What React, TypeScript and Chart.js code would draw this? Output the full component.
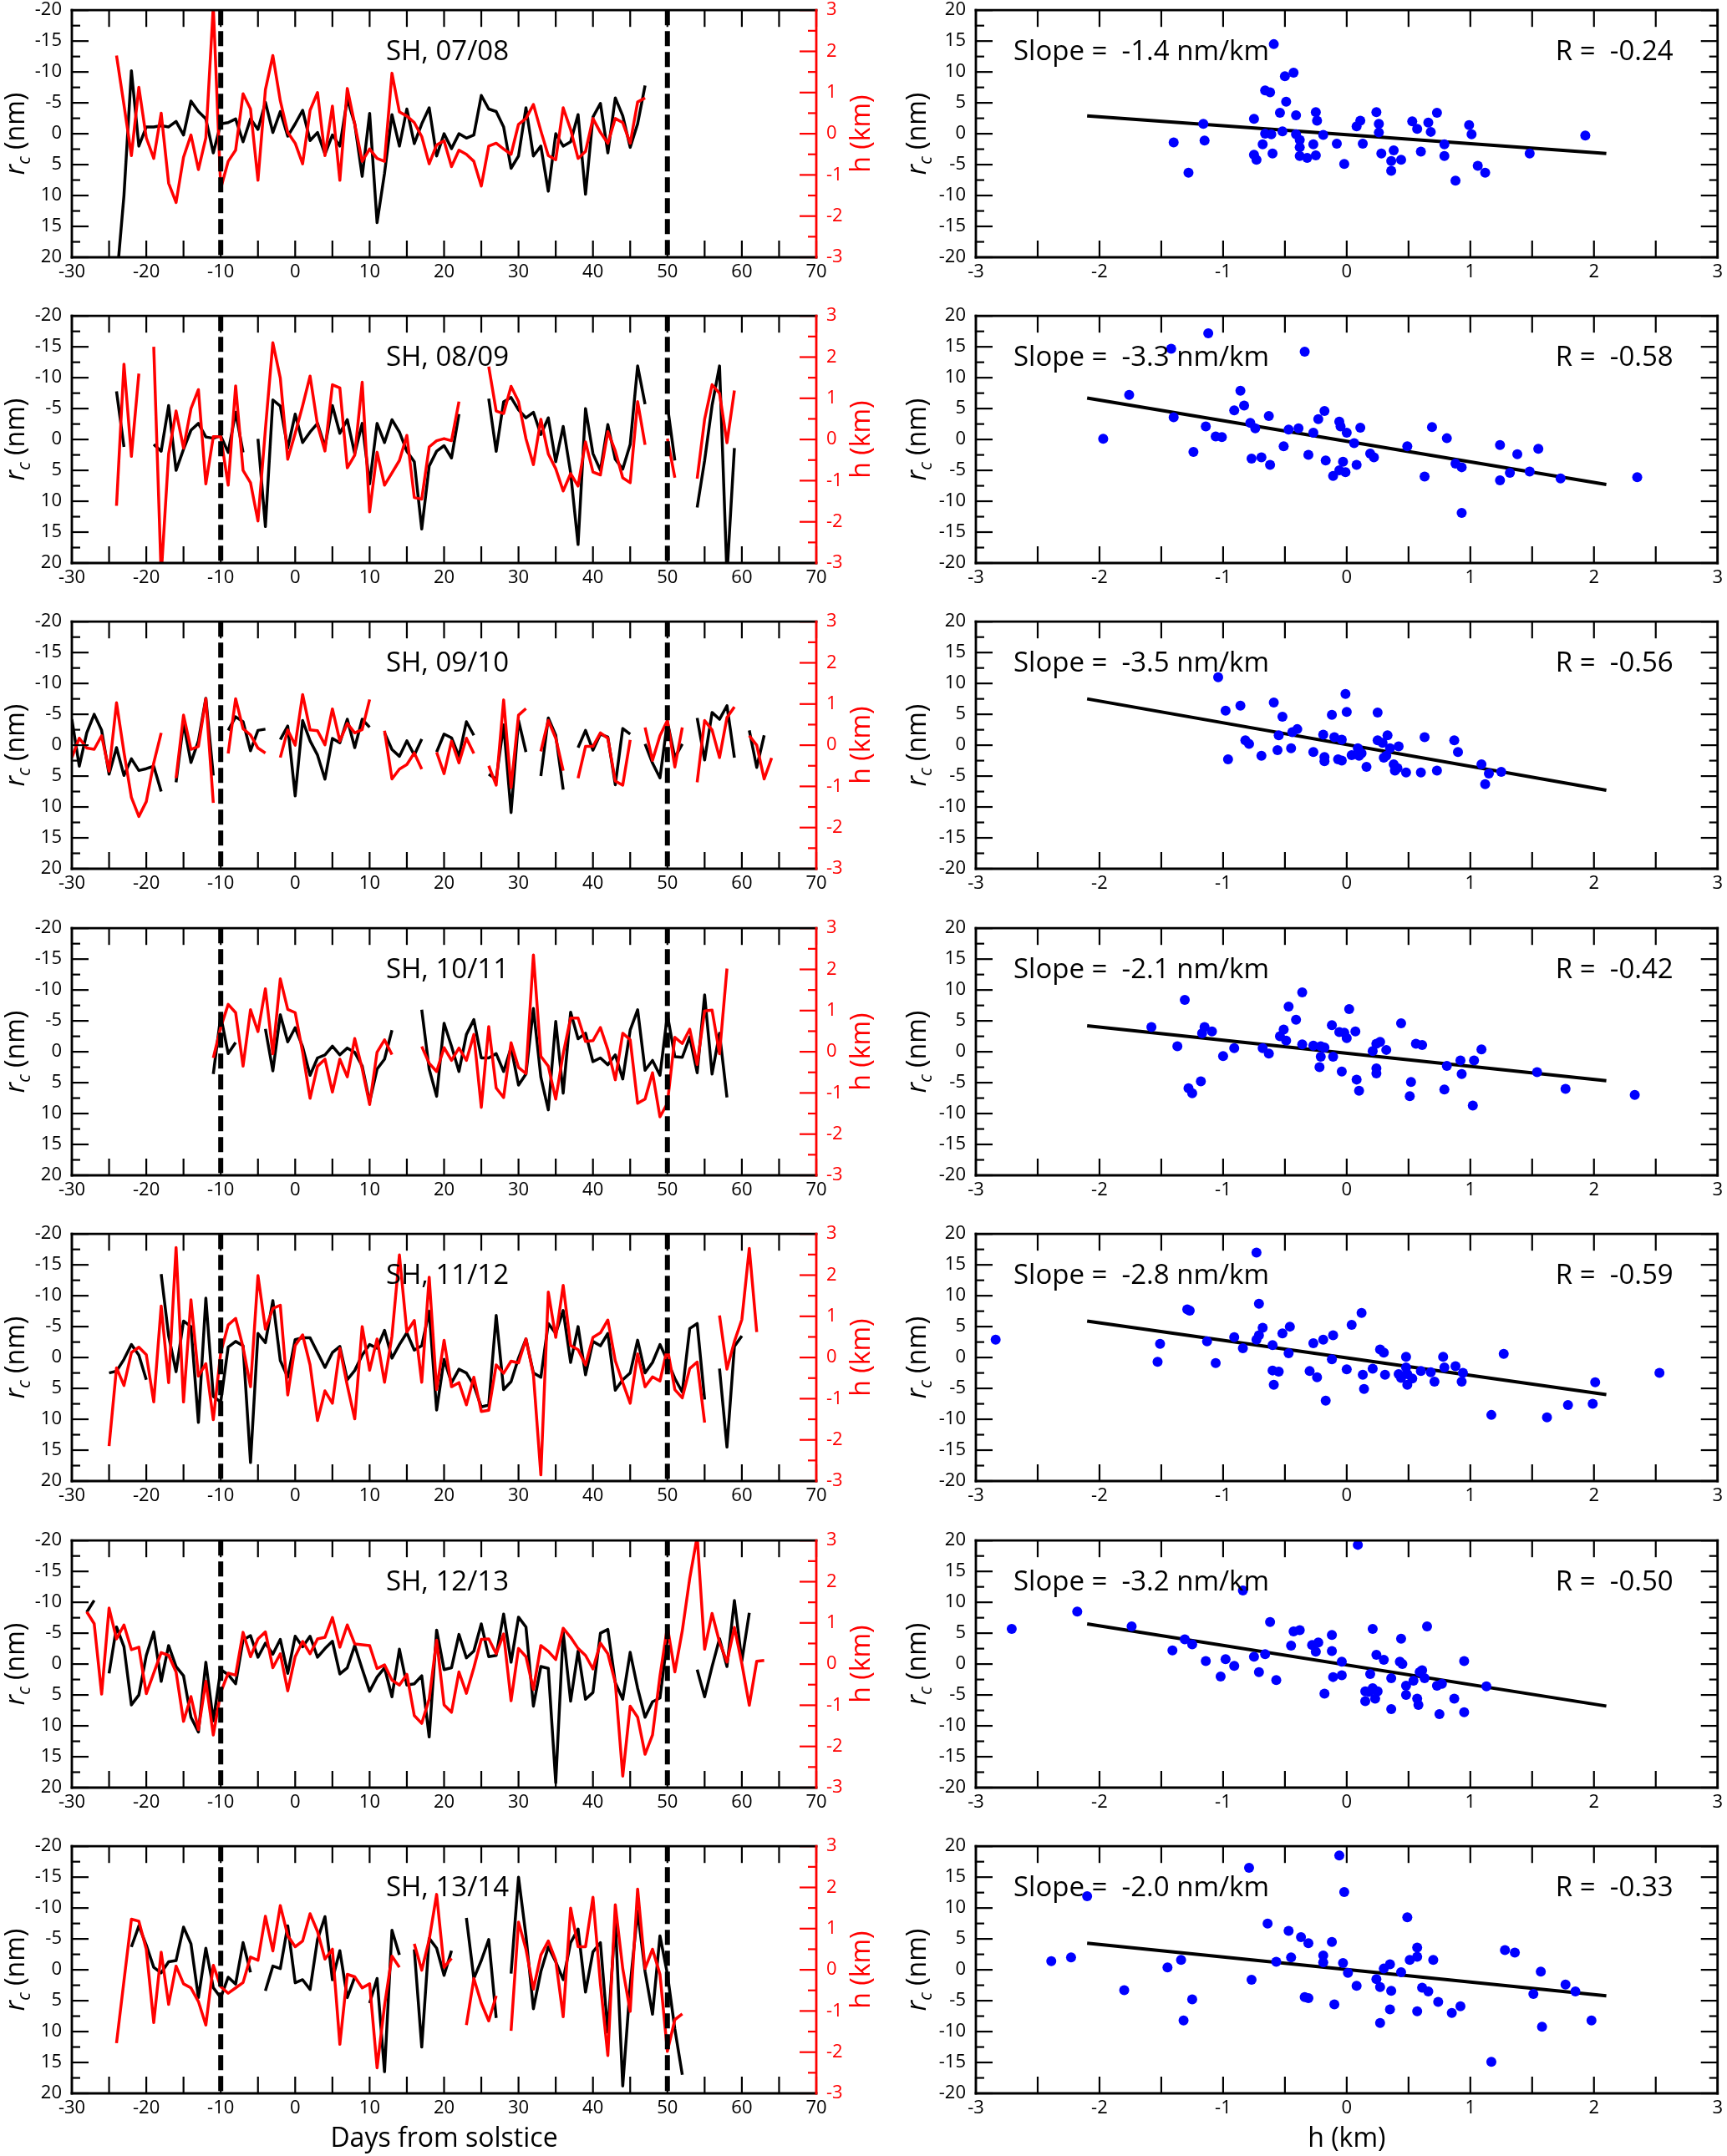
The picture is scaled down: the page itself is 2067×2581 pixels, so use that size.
import React, { useEffect, useRef } from 'react';
import { Chart, registerables } from 'chart.js';
Chart.register(...registerables);

const FONT = "'Open Sans', 'Noto Sans', 'DejaVu Sans', sans-serif";
const RED = '#ff0000';
const BLUE = '#0000ff';

// ---------------- data ----------------
const seasonLabels = ['SH, 07/08', 'SH, 08/09', 'SH, 09/10', 'SH, 10/11', 'SH, 11/12', 'SH, 12/13', 'SH, 13/14'];
const slopeLabels = ['-1.4', '-3.3', '-3.5', '-2.1', '-2.8', '-3.2', '-2.0'];
const rLabels = ['-0.24', '-0.58', '-0.56', '-0.42', '-0.59', '-0.50', '-0.33'];
const windowDays = [-10, 50];

// time series: rc (nm) and h (km), one value per day starting at the given day
const rc0708Start = -24;
const rc0708 = [
  24, 10, -10.2, 2.0, -1.1, -1.1, -1.3, -1.1, -2.0, 0.2,
  -5.3, -3.6, -2.4, 3.1, -1.6, -1.8, -2.4, 1.3, -2.4, -0.7,
  -5.1, -0.2, -3.6, 0.4, -1.6, -3.8, 1.1, -0.2, 3.3, 0.2,
  2.0, -5.6, -1.6, 6.9, -3.3, 14.4, 6.4, -3.1, 2.0, -4.0,
  1.6, -1.6, -4.2, 3.6, 0, 2.4, 0, 0.7, 0.2, -6.2,
  -4.0, -3.6, -1.1, 5.6, 3.6, -4.2, 3.6, 2.0, 9.3, 0,
  2.0, 1.3, -3.1, 9.8, -2.7, -4.9, 3.1, -5.8, -2.9, 2.2,
  -1.6, -7.8,
];
const h0708Start = -24;
const h0708 = [
  1.9, 0.7, -0.53, 1.13, -0.1, -0.6, 0.5, -1.2, -1.67, -0.57,
  -0.03, -0.87, -0.1, 3.1, -1.33, -0.67, -0.4, 0.97, 0.6, -1.13,
  1.07, 1.9, 0.8, 0.03, -0.23, -0.73, 0.57, 1.0, -0.53, 0.67,
  -1.13, 1.1, 0.23, -0.67, -0.37, -0.6, -0.67, 1.47, 0.53, 0.43,
  0.27, -0.07, -0.73, -0.27, -0.17, -0.8, -0.4, -0.5, -0.67, -1.27,
  -0.3, -0.23, -0.37, -0.5, 0.23, 0.37, 0.71, 0.07, -0.53, -0.63,
  0.63, 0.1, -0.6, -0.43, 0.37, 0.03, -0.23, 0.37, 0.27, -0.23,
  0.77, 0.87,
];

const rc0809Start = -24;
const rc0809 = [
  -7.8, 1.2, null, null, null, 0.8, 1.9, -5.5, 5.0, 1.6,
  -1.5, -2.6, -0.4, -0.2, -0.6, 2.1, -4.4, 2.1, null, -0.1,
  14.1, -6.4, -5.4, 1.4, -4.1, 0.5, -1.2, -2.6, 1.2, -5.5,
  -1.0, -3.2, 2.3, -2.6, 7.2, -2.6, 0.5, -3.2, -1.2, 1.9,
  3.6, 14.5, 4.3, 1.9, 1.0, 3.0, -4.1, null, null, null,
  -6.6, 1.9, -6.1, -6.8, -4.8, -3.5, -4.4, -0.8, -3.5, 3.6,
  -2.1, 5.4, 17.0, -5.0, 2.3, 5.0, -2.4, 3.2, 4.8, 0.8,
  -11.9, -5.7, null, null, -5.5, 3.4, null, null, 11.0, 3.4,
  -5.5, -11.9, 22, 1.4,
];
const h0809Start = -24;
const h0809 = [
  -1.61, 1.83, -0.41, 1.6, null, 2.25, -3.3, -0.35, 0.69, -0.21,
  0.75, 1.21, -1.08, 0.07, 0.07, -1.11, 1.3, -0.75, -1.05, -1.98,
  0.25, 2.35, 1.49, -0.48, 0.15, 0.82, 1.54, 0.35, -0.28, 1.33,
  1.25, -0.69, -0.38, 1.39, -1.76, -0.31, -1.11, -0.81, -0.51, 0.1,
  -1.41, -1.45, -0.18, -0.03, 0.02, -0.03, 0.92, null, null, null,
  1.77, 0.69, 0.63, 1.29, 0.92, 0.02, -0.61, 0.49, -0.35, -0.71,
  -1.25, -0.83, -1.13, -0.06, -0.79, -0.86, 0.19, -0.28, -0.93, -1.05,
  0.92, -0.13, null, null, 0.02, -0.93, null, null, -0.95, 0.49,
  1.33, 1.12, -0.08, 1.19,
];

const rc0910Start = -30;
const rc0910 = [
  -4.2, 3.4, -2.0, -5.0, -2.4, 4.7, 0.4, 4.9, 2.2, 4.1,
  3.8, 3.4, 7.5, null, 6.0, -3.6, 2.8, -0.7, -7.6, 4.9,
  null, -2.4, -4.6, -3.8, 0.9, -2.4, -2.6, null, -0.9, -3.1,
  8.2, -4.0, -0.7, 1.6, 5.5, -1.1, -0.4, -4.2, 0.4, -4.2,
  -2.9, null, -2.0, 0.7, 1.8, -0.7, 1.6, -1.0, null, 1.1,
  -1.8, -1.2, 1.8, -3.8, -1.6, null, 4.7, 5.5, -3.3, 10.9,
  -4.0, 1.1, null, 5.0, -4.4, -1.6, 7.2, null, 0.4, -2.4,
  0.8, -1.8, -1.3, 6.4, -2.7, -1.8, null, -0.2, 2.9, 5.3,
  -3.8, 2.0, -0.2, null, -4.4, 2.4, -5.3, -4.2, -6.4, 2.0,
  null, -2.4, 3.6, -1.6, null,
];
const h0910Start = -30;
const h0910 = [
  -0.3, 0.17, -0.07, -0.1, 0.23, -0.63, 1.03, -0.17, -1.27, -1.73,
  -1.37, -0.43, 0.3, null, -0.8, 0.73, -0.1, -0.03, 1.13, -1.4,
  null, -0.2, 1.13, 0.4, 0.25, -0.07, -0.19, null, -0.3, 0.37,
  0.0, 1.23, 0.37, 0.35, 0.01, 0.88, 0.1, 0.53, 0.3, 0.38,
  1.11, null, 0.35, -0.82, -0.58, -0.47, -0.19, -0.58, null, -0.17,
  -0.69, 0.1, -0.43, 0.17, -0.2, null, -0.5, -0.97, 1.1, -1.03,
  0.73, 0.89, null, -0.15, 0.6, 0.17, -0.62, null, -0.8, -0.03,
  -0.03, 0.3, 0.17, -0.87, -0.97, 0.13, null, 0.43, -0.37, 0.23,
  0.6, -0.53, 0.43, null, -0.9, 0.6, 0.37, -0.3, 0.67, 0.93,
  null, 0.23, 0.0, -0.82, -0.31,
];

const rc1011Start = -11;
const rc1011 = [
  3.6, -5.8, 0.3, -1.5, null, null, null, -3.7, 3.1, -6.0,
  -1.6, -3.9, -0.8, 3.8, 1.0, 0.5, -0.9, 0.5, -0.6, 0.1,
  2.3, 8.1, 2.8, 1.2, -3.5, null, null, null, -6.8, 2.8,
  7.2, -4.6, -0.9, 3.2, -2.8, -5.2, 1.0, 1.0, 0.3, 3.2,
  -0.7, 5.4, 3.6, -7.0, 4.1, 9.4, -4.9, 6.7, -6.4, -2.1,
  -3.0, 1.6, 1.0, 2.1, 0.5, 4.4, -3.5, -6.8, 3.0, 1.4,
  3.8, -6.0, 0.8, 0.9, -2.4, 3.4, -9.2, 3.6, -3.0, 7.4,
];
const h1011Start = -11;
const h1011 = [
  -0.15, 0.59, 1.15, 0.95, -0.35, 1.02, 0.49, 1.53, -0.05, 1.77,
  1.03, 0.95, -0.01, -1.13, -0.35, -0.18, -0.98, -0.18, -0.61, 0.32,
  -0.41, -1.28, -0.01, 0.29, -0.07, null, null, null, 0.13, -0.28,
  -0.48, 0.1, -0.21, 0.09, -0.21, 0.42, -1.35, 0.61, -0.88, -1.11,
  0.22, -0.38, -0.53, 2.35, -0.11, -0.35, -1.15, -0.05, 0.82, 0.82,
  0.25, 0.27, 0.59, 0.05, -0.68, 0.45, 0.29, -1.25, -1.15, -0.51,
  -1.58, -1.25, 0.35, 0.2, 0.55, -0.31, 0.99, 1.01, -0.05, 2.02,
];

const rc1112Start = -25;
const rc1112 = [
  2.5, 2.2, 0.3, -2.1, -0.4, 3.6, null, -13.5, -3.5, 2.3,
  -5.9, -5.0, 10.5, -9.6, 6.3, 7.2, -1.7, -2.6, -1.9, 17.0,
  -3.9, -2.4, -9.2, 0.5, 3.2, -2.9, -3.2, -3.2, -0.8, 1.6,
  -0.8, -1.8, 3.6, 2.1, -0.4, -2.1, -1.5, -4.4, 0.1, -2.1,
  -4.0, -1.2, -1.9, -7.5, 8.5, 0.3, 4.1, 1.9, 2.5, 4.5,
  8.0, 7.7, -6.8, 5.2, 3.9, 0.1, -3.0, 2.5, 3.2, -5.5,
  -3.9, -7.6, 0.8, -5.0, 2.8, -2.6, -1.9, -3.9, 5.3, 3.6,
  2.5, -2.8, 2.5, 0.8, -2.1, 0.5, 3.4, 5.6, -4.7, -5.5,
  6.8, null, 1.8, 14.5, -1.8, -3.5,
];
const h1112Start = -25;
const h1112 = [
  -2.15, -0.25, -0.68, 0.12, 0.25, 0.07, -1.08, 1.25, -0.61, 2.67,
  -1.08, 1.4, -0.45, -0.15, -1.51, 0.12, 0.79, 0.95, 0.25, -0.71,
  1.99, 0.69, 1.19, 1.27, -0.91, 0.29, 0.55, -0.18, -1.53, -0.81,
  -1.11, 0.22, -0.68, -1.49, 0.75, -0.31, 0.45, -0.6, 0.52, 2.49,
  0.62, 0.9, -0.6, 1.95, -0.78, 0.42, -0.71, -0.61, -1.15, -0.48,
  -1.31, -1.28, -0.18, -0.38, -0.09, -0.13, 0.45, -0.41, -2.85, 1.59,
  0.49, 1.75, 0.29, 0.19, -0.18, 0.49, 0.6, 0.91, -0.08, -0.61,
  -1.11, 0.09, -0.71, -0.47, -0.57, 0.22, -0.78, -0.98, -0.27, -0.11,
  -1.58, null, 1.02, -0.28, 0.39, 0.92, 2.65, 0.62,
];

const rc1213Start = -28;
const rc1213 = [
  -8.4, -10.3, null, 1.5, -6.0, -2.8, 6.6, 5.0, -1.4, -5.2,
  2.8, -3.0, 0.4, 1.9, 8.6, 11.0, -0.3, 9.2, 0.9, 1.7,
  3.2, -3.9, -4.6, -1.1, -3.4, -1.6, -4.0, 1.5, -4.5, -2.8,
  -4.5, -1.1, -2.5, -3.7, 1.6, 0.6, -3.0, 0.8, 4.4, 2.1,
  0.6, 5.3, -2.4, 3.4, 3.2, 1.9, 11.8, -5.5, 0.9, 0.6,
  -4.8, -1.0, -2.1, -6.5, -1.2, -1.4, -8.1, -0.3, -7.6, -6.0,
  6.8, 0.4, 0.7, 19.2, -5.2, 6.0, -2.1, 5.7, 4.6, -5.0,
  -5.6, 3.0, 5.7, -1.9, 3.9, 8.6, 6.1, 5.5, -4.1, null,
  null, null, 0.9, 5.3, 0.4, -4.1, 0.4, -10.3, -0.5, -8.3,
];
const h1213Start = -28;
const h1213 = [
  1.27, 0.98, -0.73, 1.36, 0.61, 0.95, 0.35, 0.41, -0.72, -0.22,
  0.28, 0.21, -0.19, -1.39, -0.79, -1.59, -0.42, -1.72, -0.69, -0.22,
  -0.27, 0.77, 0.18, 0.61, 0.78, -0.09, 0.25, -0.65, 0.18, 0.55,
  0.25, 0.61, 0.65, 1.13, 0.41, 0.95, 0.49, 0.47, 0.45, -0.11,
  -0.02, -0.39, -0.51, -0.25, -1.25, -1.44, -0.85, 0.58, -0.99, -1.17,
  -0.19, -0.71, -0.09, 0.6, 0.61, 0.25, 0.73, -0.89, 0.38, 0.18,
  -0.62, 0.45, 0.31, 0.11, 0.87, 0.65, 0.38, 0.21, -0.12, 0.51,
  0.25, -0.45, -2.72, -1.02, -1.29, -2.19, -1.72, -0.29, 0.91, -0.19,
  0.81, 2.08, 3.1, 0.36, 1.23, 0.53, 0.05, 0.89, 0.01, -1.0,
  0.07, 0.09,
];

const rc1314Start = -22;
const rc1314 = [
  -3.7, -7.1, -4.0, -0.4, 0.5, -1.3, -1.5, -6.9, -4.2, 4.5,
  -3.5, 2.9, 4.5, 1.2, 2.3, -4.4, 0.4, null, 3.4, -0.6,
  -0.2, -7.1, 2.1, 1.6, 3.2, -4.9, -8.6, 1.6, -3.1, 4.5,
  1.2, null, 5.4, 1.4, 16.5, -6.4, -2.4, null, -3.3, 12.5,
  -5.1, -3.5, 0.9, -3.1, null, -8.4, 1.4, -1.5, -4.9, 7.8,
  null, 0.6, -15.0, -5.5, 6.3, 0.3, -3.7, -1.3, 1.6, -4.4,
  -6.6, 3.6, -2.9, -4.4, 10.1, -8.0, 18.8, 2.5, -9.5, 0.3,
  7.2, -5.5, 0.7, 9.6, 17.0,
];
const h1314Start = -24;
const h1314 = [
  -1.78, -0.27, 1.23, 1.18, 0.5, -1.28, 0.43, -0.84, 0.09, -0.34,
  -0.44, -0.77, -1.34, 0.11, -0.41, -0.57, -0.44, -0.31, 0.31, 0.23,
  1.3, 0.46, 1.56, 0.83, 0.56, 0.7, 1.36, 0.93, 0.26, 0.5,
  -1.81, -0.11, -0.17, -0.44, -0.34, -2.38, -0.87, 0.33, 0.06, null,
  0.63, -0.01, 0.73, 1.83, 0.06, 0.28, null, -1.34, -0.21, -0.81,
  -1.24, -0.63, null, -1.48, 1.16, 0.5, -0.47, 0.36, 0.7, 0.23,
  -1.14, 1.5, 0.56, 0.56, 1.76, -0.34, -2.08, 1.58, 0.03, -1.01,
  1.96, 0.03, 0.5, -0.11, -1.98, -1.21, -1.07,
];

// scatter: h (km) and rc (nm)
const sh0708 = [-1.40, -1.28, -1.16, -1.15, -0.75, -0.75, -0.73, -0.68, -0.66, -0.66, -0.62, -0.61, -0.60, -0.59, -0.54, -0.52, -0.50, -0.49, -0.43, -0.41, -0.41, -0.38, -0.38, -0.38, -0.32, -0.27, -0.25, -0.25, -0.24, -0.19, -0.08, -0.02, 0.08, 0.11, 0.13, 0.24, 0.26, 0.26, 0.28, 0.36, 0.36, 0.38, 0.44, 0.53, 0.57, 0.60, 0.66, 0.68, 0.73, 0.79, 0.79, 0.88, 0.99, 1.01, 1.06, 1.12, 1.48, 1.93];
const src0708 = [-1.4, -6.3, 1.6, -1.1, 2.4, -3.4, -4.2, -1.7, 7.0, 0, 6.7, -0.1, -3.2, 14.5, 3.4, 0.4, 9.3, 5.2, 9.9, 3.0, -0.1, -1.0, -2.2, -3.6, -3.9, -1.7, 3.5, -3.5, 2.1, -0.2, -1.6, -4.9, 1.2, 2.1, -1.6, 3.5, 1.6, 0.2, -3.2, -4.4, -6.0, -2.7, -4.2, 2.0, 0.8, -2.9, 1.8, 0.3, 3.4, -1.7, -3.6, -7.6, 1.4, -0.1, -5.2, -6.3, -3.2, -0.3];
const sh0809 = [-1.97, -1.76, -1.40, -1.42, -1.24, -1.14, -1.12, -1.06, -1.01, -0.91, -0.86, -0.83, -0.78, -0.77, -0.74, -0.69, -0.63, -0.62, -0.51, -0.47, -0.39, -0.34, -0.31, -0.27, -0.23, -0.18, -0.17, -0.11, -0.06, -0.05, -0.06, -0.03, -0.01, 0.00, 0.06, 0.08, 0.11, 0.19, 0.22, 0.49, 0.63, 0.69, 0.81, 0.88, 0.93, 0.93, 1.24, 1.24, 1.32, 1.38, 1.48, 1.55, 1.73, 2.35];
const src0809 = [0.1, 7.2, 3.6, 14.7, -2.0, 2.1, 17.2, 0.5, 0.4, 4.7, 7.9, 5.5, 2.7, -3.1, 1.8, -2.9, 3.8, -4.1, -1.1, 1.6, 1.8, 14.2, -2.5, 1.1, 3.3, 4.6, -3.4, -5.9, 2.9, 2.1, -5.0, -3.6, -5.3, 1.1, -0.6, -4.1, 1.9, -2.3, -2.9, -1.1, -6.0, 2.0, 0.2, -3.9, -4.5, -11.9, -0.9, -6.6, -5.4, -2.4, -5.2, -1.5, -6.3, -6.1];
const sh0910 = [-1.04, -0.98, -0.96, -0.86, -0.82, -0.79, -0.69, -0.59, -0.56, -0.55, -0.52, -0.45, -0.44, -0.40, -0.27, -0.19, -0.18, -0.18, -0.12, -0.10, -0.07, -0.04, -0.04, -0.01, 0.00, 0.04, 0.09, 0.10, 0.12, 0.16, 0.25, 0.25, 0.29, 0.30, 0.32, 0.33, 0.35, 0.38, 0.39, 0.41, 0.42, 0.48, 0.60, 0.63, 0.73, 0.87, 0.90, 1.09, 1.12, 1.15, 1.25];
const src0910 = [11.0, 5.6, -2.3, 6.4, 0.8, 0.2, -1.7, 6.9, -0.8, 1.6, 4.6, -0.5, 2.1, 2.6, -1.1, 1.7, -1.9, -2.6, 4.9, 1.3, -2.3, 0.9, -2.5, 8.3, 5.4, -1.6, -0.5, -1.7, -1.3, -3.5, 5.3, 0.8, 0.4, -2.0, -1.7, 1.6, -0.5, -3.1, -4.1, -3.7, -0.2, -4.4, -4.4, 1.3, -4.1, 0.8, -1.1, -3.1, -6.3, -4.6, -4.3];
const sh1011 = [-1.58, -1.37, -1.31, -1.28, -1.25, -1.18, -1.17, -1.15, -1.09, -1.00, -0.91, -0.68, -0.63, -0.54, -0.51, -0.49, -0.47, -0.41, -0.36, -0.36, -0.27, -0.22, -0.21, -0.21, -0.18, -0.12, -0.11, -0.06, -0.04, -0.02, 0.00, 0.02, 0.07, 0.08, 0.10, 0.21, 0.24, 0.24, 0.24, 0.27, 0.32, 0.44, 0.52, 0.51, 0.56, 0.61, 0.79, 0.81, 0.92, 0.93, 1.02, 1.03, 1.09, 1.54, 1.77, 2.33];
const src1011 = [4.0, 0.9, 8.4, -5.9, -6.7, -4.8, 3.0, 4.0, 3.3, -0.7, 0.6, 0.6, -0.3, 2.5, 3.6, 1.8, 7.3, 5.2, 1.2, 9.6, 1.0, -2.5, -0.8, 0.9, 0.7, 4.3, -0.8, 3.2, -3.2, 3.1, 2.2, 6.9, 3.3, -4.5, -6.3, 0.1, -2.7, -3.5, 1.3, 1.6, 0.3, 4.6, -4.9, -7.2, 1.3, 1.1, -6.1, -2.3, -1.4, -3.6, -8.7, -1.4, 0.4, -3.3, -6.0, -7.0];
const sh1112 = [-2.84, -1.53, -1.51, -1.29, -1.27, -1.13, -1.06, -0.91, -0.84, -0.73, -0.73, -0.71, -0.71, -0.68, -0.60, -0.60, -0.59, -0.55, -0.52, -0.47, -0.46, -0.30, -0.27, -0.24, -0.19, -0.17, -0.12, -0.11, 0.00, 0.04, 0.12, 0.13, 0.14, 0.21, 0.27, 0.30, 0.31, 0.42, 0.44, 0.48, 0.48, 0.49, 0.49, 0.53, 0.60, 0.68, 0.71, 0.78, 0.79, 0.88, 0.93, 0.94, 1.17, 1.27, 1.62, 1.79, 1.99, 2.01, 2.53];
const src1112 = [2.9, -0.7, 2.2, 7.8, 7.6, 2.6, -0.9, 3.3, 1.5, 17.0, 2.9, 3.6, 8.7, 4.8, 2.0, -2.1, -4.4, -2.3, 3.9, 0.7, 5.0, -2.2, 2.3, -3.2, 2.9, -7.0, -0.3, 3.6, -1.9, 5.3, 7.2, -2.8, -5.1, -1.8, 1.3, 0.8, -2.8, -2.7, -3.3, -1.6, 0.1, -4.4, -2.7, -3.4, -2.2, -2.4, -3.9, 0.1, -1.6, -1.4, -3.9, -2.5, -9.3, 0.6, -9.7, -7.7, -7.5, -4.0, -2.5];
const sh1213 = [-2.71, -2.18, -1.74, -1.41, -1.31, -1.25, -1.14, -1.02, -0.98, -0.91, -0.84, -0.75, -0.71, -0.66, -0.62, -0.57, -0.45, -0.43, -0.38, -0.28, -0.25, -0.23, -0.18, -0.12, -0.12, -0.11, -0.04, -0.04, 0.09, 0.15, 0.15, 0.18, 0.19, 0.21, 0.21, 0.23, 0.24, 0.25, 0.30, 0.36, 0.36, 0.43, 0.44, 0.45, 0.48, 0.48, 0.54, 0.57, 0.58, 0.59, 0.61, 0.63, 0.65, 0.73, 0.75, 0.77, 0.87, 0.95, 0.95, 1.13];
const src1213 = [5.7, 8.5, 6.1, 2.2, 4.0, 3.2, 0.5, -2.0, 0.8, -0.3, 11.9, 1.2, -1.3, 1.6, 6.8, -2.6, 3.0, 5.3, 5.5, 3.1, 2.0, 3.5, -4.8, 4.7, 2.1, -2.1, 0.4, -1.8, 19.3, -4.4, -6.0, -4.5, -1.6, -3.9, 5.7, -5.6, 1.5, -4.4, 0.7, -2.3, -7.3, 0.4, 4.1, 0.0, -3.5, -5.0, -2.7, -5.6, -6.6, -1.3, -1.0, -2.3, 6.1, -3.5, -8.1, -3.2, -5.6, 0.5, -7.8, -3.6];
const sh1314 = [-2.39, -2.23, -2.10, -1.80, -1.45, -1.34, -1.32, -1.25, -0.79, -0.77, -0.64, -0.57, -0.47, -0.45, -0.37, -0.34, -0.31, -0.31, -0.19, -0.19, -0.12, -0.10, -0.06, -0.03, -0.02, 0.01, 0.08, 0.24, 0.27, 0.27, 0.30, 0.35, 0.35, 0.36, 0.44, 0.49, 0.51, 0.57, 0.57, 0.57, 0.61, 0.66, 0.70, 0.74, 0.85, 0.92, 1.17, 1.28, 1.36, 1.51, 1.57, 1.58, 1.77, 1.85, 1.98];
const src1314 = [1.4, 2.0, 11.9, -3.3, 0.4, 1.6, -8.2, -4.8, 16.5, -1.6, 7.5, 1.3, 6.3, 2.0, 5.3, -4.4, -4.6, 4.3, 2.3, 1.2, 4.5, -5.6, 18.5, 1.1, 12.6, -0.5, -2.6, -1.5, -2.8, -8.6, 0.2, 0.9, -6.4, -3.4, -0.4, 8.5, 1.6, 3.6, 2.1, -6.7, -2.9, -3.5, 1.6, -5.2, -7.0, -5.9, -14.9, 3.2, 2.8, -3.9, -0.3, -9.2, -2.4, -3.5, -8.2];

// regression lines (end points)
const fitX = [-2.1, 2.1];
const fitStartY = [2.9, 6.7, 7.5, 4.2, 5.9, 6.5, 4.3];
const fitEndY = [-3.2, -7.3, -7.3, -4.7, -6.0, -6.8, -4.2];

const timePanels = [
  { rc: rc0708, rcStart: rc0708Start, h: h0708, hStart: h0708Start },
  { rc: rc0809, rcStart: rc0809Start, h: h0809, hStart: h0809Start },
  { rc: rc0910, rcStart: rc0910Start, h: h0910, hStart: h0910Start },
  { rc: rc1011, rcStart: rc1011Start, h: h1011, hStart: h1011Start },
  { rc: rc1112, rcStart: rc1112Start, h: h1112, hStart: h1112Start },
  { rc: rc1213, rcStart: rc1213Start, h: h1213, hStart: h1213Start },
  { rc: rc1314, rcStart: rc1314Start, h: h1314, hStart: h1314Start },
];
const scatterPanels = [
  { h: sh0708, rc: src0708 },
  { h: sh0809, rc: src0809 },
  { h: sh0910, rc: src0910 },
  { h: sh1011, rc: src1011 },
  { h: sh1112, rc: src1112 },
  { h: sh1213, rc: src1213 },
  { h: sh1314, rc: src1314 },
];

// ---------------- layout ----------------
const PAGE_W = 2067;
const PAGE_H = 2581;
const ROW_TOPS = [7, 373, 739, 1106, 1472, 1839, 2205];
const PLOT_H = 301;
const PAD_T = 20;
const L_CANVAS_W = 1075;
const L_AXIS_W = 86;
const L_PLOT_RIGHT = 977;
const S_CANVAS_X = 1060;
const S_CANVAS_W = 1007;
const S_PLOT_LEFT = 1168;
const S_PLOT_RIGHT = 2058;
const TICK_FONT = 22;
const TEXT_FONT = 33;
const AXIS_TITLE_FONT = 32;

function bottomHeight(i: number) {
  if (i === ROW_TOPS.length - 1) return PAGE_H - (ROW_TOPS[i] - PAD_T) - PAD_T - PLOT_H;
  return 45;
}

function toSeries(start: number, vals: (number | null)[]) {
  return vals.map((v, k) => ({ x: start + k, y: v }));
}

type Side = {
  scale: string; side: 'left' | 'right' | 'top' | 'bottom'; color: string;
  min: number; max: number; minor: number; major: number; majorLen: number; minorLen: number;
};

function frameTicksPlugin(sides: Side[], frame: { top: string; bottom: string; left: string; right: string }) {
  return {
    id: 'frameTicks',
    afterDatasetsDraw(chart: any) {
      const { ctx, chartArea: a } = chart;
      ctx.save();
      ctx.lineWidth = 2.2;
      ctx.lineCap = 'butt';
      for (const s of sides) {
        const sc = chart.scales[s.scale];
        ctx.strokeStyle = s.color;
        const n = Math.round((s.max - s.min) / s.minor);
        for (let k = 0; k <= n; k++) {
          const v = s.min + k * s.minor;
          const r = v / s.major;
          const isMajor = Math.abs(r - Math.round(r)) < 1e-6;
          const len = isMajor ? s.majorLen : s.minorLen;
          const p = sc.getPixelForValue(v);
          ctx.beginPath();
          if (s.side === 'bottom') { ctx.moveTo(p, a.bottom); ctx.lineTo(p, a.bottom - len); }
          else if (s.side === 'top') { ctx.moveTo(p, a.top); ctx.lineTo(p, a.top + len); }
          else if (s.side === 'left') { ctx.moveTo(a.left, p); ctx.lineTo(a.left + len, p); }
          else { ctx.moveTo(a.right, p); ctx.lineTo(a.right - len, p); }
          ctx.stroke();
        }
      }
      ctx.lineWidth = 2.8;
      ctx.lineCap = 'square';
      const seg = (c: string, x1: number, y1: number, x2: number, y2: number) => {
        ctx.strokeStyle = c; ctx.beginPath(); ctx.moveTo(x1, y1); ctx.lineTo(x2, y2); ctx.stroke();
      };
      seg(frame.top, a.left, a.top, a.right, a.top);
      seg(frame.bottom, a.left, a.bottom, a.right, a.bottom);
      seg(frame.left, a.left, a.top, a.left, a.bottom);
      seg(frame.right, a.right, a.top, a.right, a.bottom);
      ctx.restore();
    },
  };
}

function drawRcTitle(ctx: CanvasRenderingContext2D, cx: number, cy: number) {
  const big = AXIS_TITLE_FONT;
  const small = 21;
  ctx.save();
  ctx.translate(cx, cy);
  ctx.rotate(-Math.PI / 2);
  ctx.fillStyle = '#000';
  ctx.textAlign = 'left';
  ctx.textBaseline = 'alphabetic';
  const fR = `italic ${big}px ${FONT}`;
  const fC = `italic ${small}px ${FONT}`;
  const fN = `${big}px ${FONT}`;
  ctx.font = fR; const wR = ctx.measureText('r').width;
  ctx.font = fC; const wC = ctx.measureText('c').width;
  ctx.font = fN; const wN = ctx.measureText(' (nm)').width;
  let x = -(wR + wC + wN) / 2;
  const base = big * 0.35;
  ctx.font = fR; ctx.fillText('r', x, base); x += wR;
  ctx.font = fC; ctx.fillText('c', x, base + small * 0.3); x += wC;
  ctx.font = fN; ctx.fillText(' (nm)', x, base);
  ctx.restore();
}

const baseTicks = { font: { size: TICK_FONT, family: FONT }, color: '#000', autoSkip: false, maxRotation: 0 };
const noGrid = { display: false, drawTicks: false };
const noBorder = { display: false };

function TimePanel({ i }: { i: number }) {
  const ref = useRef<HTMLCanvasElement>(null);
  const bh = bottomHeight(i);
  const height = PAD_T + PLOT_H + bh;
  const top = ROW_TOPS[i] - PAD_T;
  useEffect(() => {
    const p = timePanels[i];
    const isLast = i === ROW_TOPS.length - 1;
    const dashed = windowDays.map((d) => ({
      type: 'line', data: [{ x: d, y: -20 }, { x: d, y: 20 }], yAxisID: 'y',
      borderColor: '#000', borderWidth: 6, borderDash: [18, 7], pointRadius: 0, order: 0,
    }));
    const titles = {
      id: 'titles',
      afterDraw(chart: any) {
        const { ctx, chartArea: a } = chart;
        const mid = (a.top + a.bottom) / 2;
        ctx.save();
        ctx.fillStyle = '#000';
        ctx.font = `${TEXT_FONT}px ${FONT}`;
        ctx.textAlign = 'center';
        ctx.textBaseline = 'middle';
        ctx.fillText(seasonLabels[i], (a.left + a.right) / 2 + 4, a.top + 50);
        drawRcTitle(ctx, 18, mid);
        ctx.save();
        ctx.translate(a.right + 53, mid);
        ctx.rotate(-Math.PI / 2);
        ctx.fillStyle = RED;
        ctx.font = `${AXIS_TITLE_FONT}px ${FONT}`;
        ctx.textAlign = 'center';
        ctx.textBaseline = 'alphabetic';
        ctx.fillText('h (km)', 0, AXIS_TITLE_FONT * 0.35);
        ctx.restore();
        if (isLast) {
          ctx.font = `${AXIS_TITLE_FONT}px ${FONT}`;
          ctx.fillStyle = '#000';
          ctx.textBaseline = 'middle';
          ctx.fillText('Days from solstice', (a.left + a.right) / 2, a.bottom + 55);
        }
        ctx.restore();
      },
    };
    const chart = new Chart(ref.current as HTMLCanvasElement, {
      type: 'line',
      data: {
        datasets: [
          ...dashed,
          { data: toSeries(p.hStart, p.h), yAxisID: 'y2', borderColor: RED, borderWidth: 3.5, pointRadius: 0, tension: 0, spanGaps: false, borderJoinStyle: 'round', order: 1 },
          { data: toSeries(p.rcStart, p.rc), yAxisID: 'y', borderColor: '#000', borderWidth: 3.5, pointRadius: 0, tension: 0, spanGaps: false, borderJoinStyle: 'round', order: 2 },
        ] as any,
      },
      options: {
        responsive: false,
        animation: false,
        devicePixelRatio: 1,
        events: [],
        layout: { padding: { top: PAD_T, left: 0, right: 0, bottom: 0 } },
        plugins: { legend: { display: false }, tooltip: { enabled: false } },
        scales: {
          x: {
            type: 'linear', min: -30, max: 70,
            ticks: { ...baseTicks, stepSize: 10, padding: 5 },
            grid: noGrid, border: noBorder,
            afterFit: (s: any) => { s.height = bh; },
          },
          y: {
            type: 'linear', position: 'left', min: -20, max: 20, reverse: true,
            ticks: { ...baseTicks, stepSize: 5, padding: 12 },
            grid: noGrid, border: noBorder,
            afterFit: (s: any) => { s.width = L_AXIS_W; },
          },
          y2: {
            type: 'linear', position: 'right', min: -3, max: 3,
            ticks: { ...baseTicks, color: RED, stepSize: 1, padding: 12 },
            grid: noGrid, border: noBorder,
            afterFit: (s: any) => { s.width = L_CANVAS_W - L_PLOT_RIGHT; },
          },
        },
      } as any,
      plugins: [
        frameTicksPlugin(
          [
            { scale: 'x', side: 'bottom', color: '#000', min: -30, max: 70, minor: 5, major: 10, majorLen: 20, minorLen: 20 },
            { scale: 'x', side: 'top', color: '#000', min: -30, max: 70, minor: 5, major: 10, majorLen: 20, minorLen: 20 },
            { scale: 'y', side: 'left', color: '#000', min: -20, max: 20, minor: 2.5, major: 5, majorLen: 20, minorLen: 10 },
            { scale: 'y2', side: 'right', color: RED, min: -3, max: 3, minor: 0.5, major: 1, majorLen: 20, minorLen: 10 },
          ],
          { top: '#000', bottom: '#000', left: '#000', right: RED },
        ),
        titles,
      ] as any,
    });
    return () => chart.destroy();
  }, [i, bh]);
  return (
    <canvas
      ref={ref}
      width={L_CANVAS_W}
      height={height}
      style={{ position: 'absolute', left: 0, top, width: L_CANVAS_W, height, display: 'block' }}
    />
  );
}

function ScatterPanel({ i }: { i: number }) {
  const ref = useRef<HTMLCanvasElement>(null);
  const bh = bottomHeight(i);
  const height = PAD_T + PLOT_H + bh;
  const top = ROW_TOPS[i] - PAD_T;
  useEffect(() => {
    const p = scatterPanels[i];
    const isLast = i === ROW_TOPS.length - 1;
    const titles = {
      id: 'titles',
      afterDraw(chart: any) {
        const { ctx, chartArea: a } = chart;
        const mid = (a.top + a.bottom) / 2;
        ctx.save();
        ctx.fillStyle = '#000';
        ctx.font = `${TEXT_FONT}px ${FONT}`;
        ctx.textBaseline = 'middle';
        ctx.textAlign = 'left';
        ctx.fillText(`Slope =  ${slopeLabels[i]} nm/km`, a.left + 45, a.top + 50);
        ctx.textAlign = 'right';
        ctx.fillText(`R =  ${rLabels[i]}`, a.right - 53, a.top + 50);
        drawRcTitle(ctx, a.left - 71, mid);
        if (isLast) {
          ctx.textAlign = 'center';
          ctx.font = `${AXIS_TITLE_FONT}px ${FONT}`;
          ctx.fillText('h (km)', (a.left + a.right) / 2, a.bottom + 55);
        }
        ctx.restore();
      },
    };
    const chart = new Chart(ref.current as HTMLCanvasElement, {
      type: 'scatter',
      data: {
        datasets: [
          {
            type: 'line',
            data: [{ x: fitX[0], y: fitStartY[i] }, { x: fitX[1], y: fitEndY[i] }],
            borderColor: '#000', borderWidth: 4, pointRadius: 0, order: 1,
          },
          {
            data: p.h.map((h, k) => ({ x: h, y: p.rc[k] })),
            backgroundColor: BLUE, borderColor: BLUE, borderWidth: 0, pointRadius: 6, order: 0,
          },
        ] as any,
      },
      options: {
        responsive: false,
        animation: false,
        devicePixelRatio: 1,
        events: [],
        layout: { padding: { top: PAD_T, left: 0, right: S_CANVAS_W - (S_PLOT_RIGHT - S_CANVAS_X), bottom: 0 } },
        plugins: { legend: { display: false }, tooltip: { enabled: false } },
        scales: {
          x: {
            type: 'linear', min: -3, max: 3,
            ticks: { ...baseTicks, stepSize: 1, padding: 5 },
            grid: noGrid, border: noBorder,
            afterFit: (s: any) => { s.height = bh; },
          },
          y: {
            type: 'linear', position: 'left', min: -20, max: 20,
            ticks: { ...baseTicks, stepSize: 5, padding: 12 },
            grid: noGrid, border: noBorder,
            afterFit: (s: any) => { s.width = S_PLOT_LEFT - S_CANVAS_X; },
          },
        },
      } as any,
      plugins: [
        frameTicksPlugin(
          [
            { scale: 'x', side: 'bottom', color: '#000', min: -3, max: 3, minor: 0.5, major: 1, majorLen: 20, minorLen: 20 },
            { scale: 'x', side: 'top', color: '#000', min: -3, max: 3, minor: 0.5, major: 1, majorLen: 20, minorLen: 20 },
            { scale: 'y', side: 'left', color: '#000', min: -20, max: 20, minor: 2.5, major: 5, majorLen: 20, minorLen: 10 },
            { scale: 'y', side: 'right', color: '#000', min: -20, max: 20, minor: 2.5, major: 5, majorLen: 20, minorLen: 10 },
          ],
          { top: '#000', bottom: '#000', left: '#000', right: '#000' },
        ),
        titles,
      ] as any,
    });
    return () => chart.destroy();
  }, [i, bh]);
  return (
    <canvas
      ref={ref}
      width={S_CANVAS_W}
      height={height}
      style={{ position: 'absolute', left: S_CANVAS_X, top, width: S_CANVAS_W, height, display: 'block' }}
    />
  );
}

export default function App() {
  useEffect(() => {
    document.body.style.margin = '0';
  }, []);
  return (
    <div style={{ position: 'absolute', left: 0, top: 0, width: PAGE_W, height: PAGE_H, overflow: 'hidden', background: '#fff' }}>
      {ROW_TOPS.map((_, i) => (
        <React.Fragment key={i}>
          <TimePanel i={i} />
          <ScatterPanel i={i} />
        </React.Fragment>
      ))}
    </div>
  );
}
